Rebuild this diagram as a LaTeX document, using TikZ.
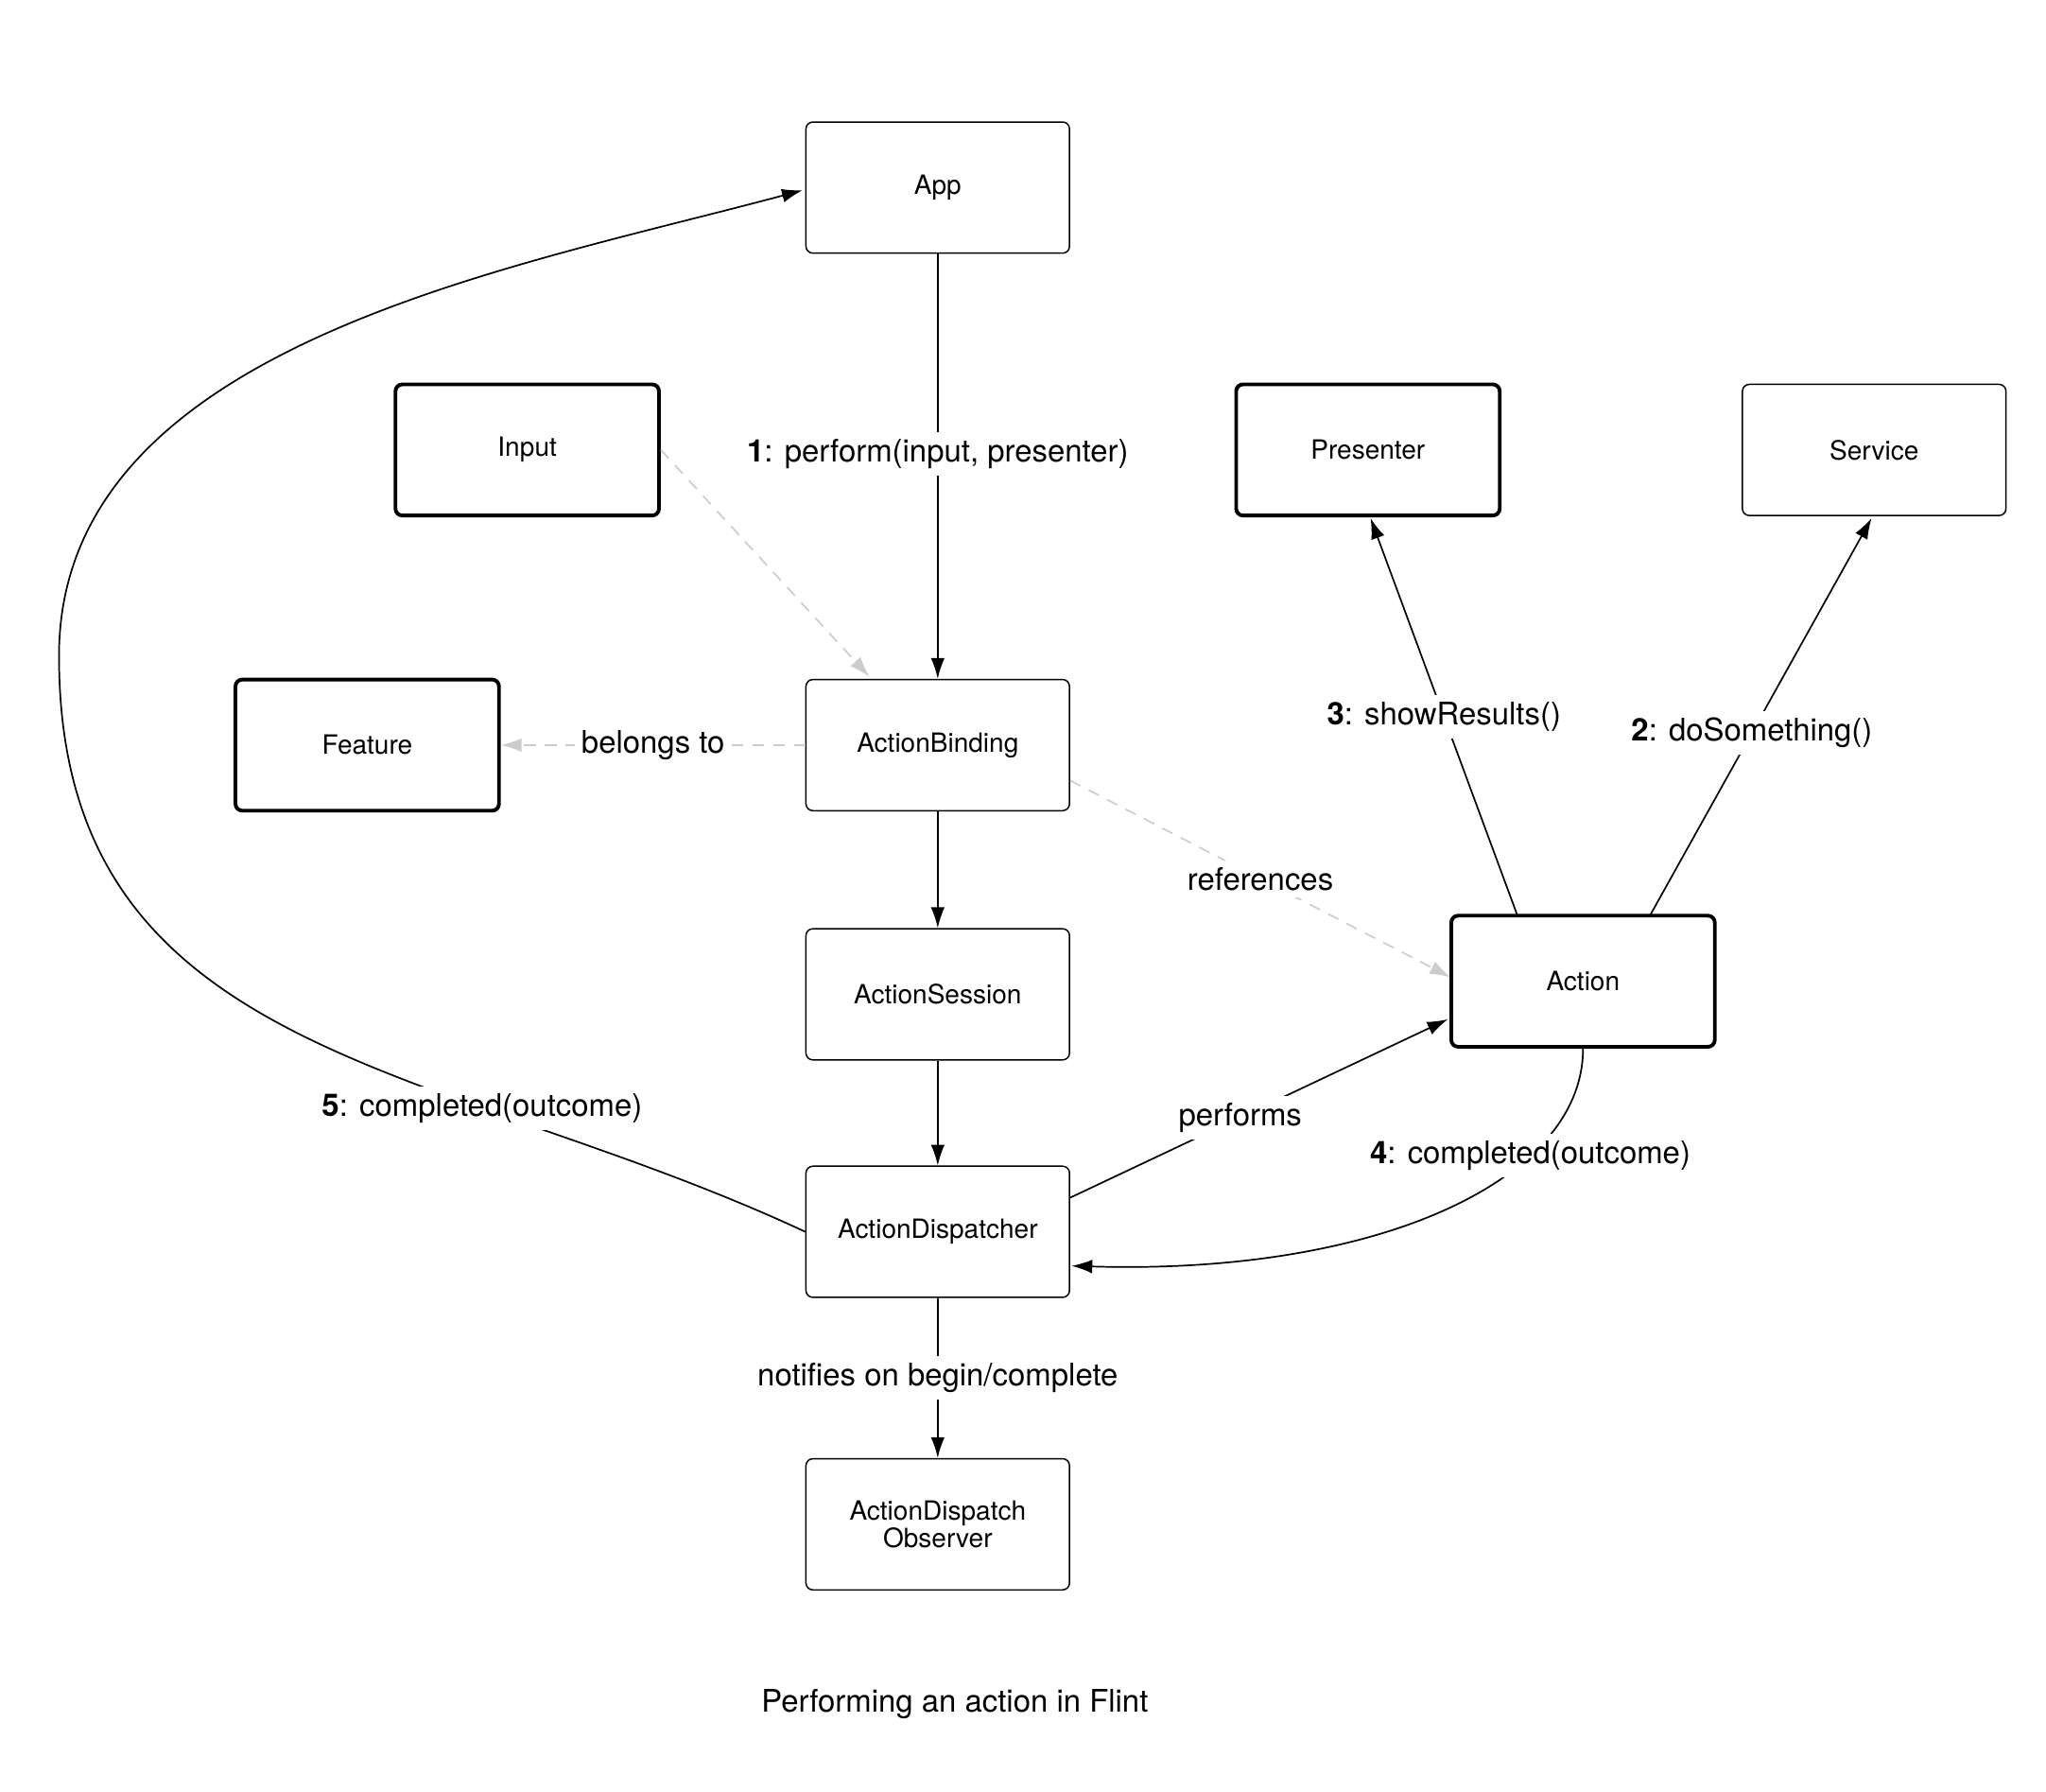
\documentclass[tikz,border=0pt]{standalone}
\usepackage{fontspec}
\setmainfont{TeX Gyre Heros}
\usetikzlibrary{arrows.meta}
\begin{document}
\begin{tikzpicture}[x=0.02cm,y=-0.02cm,
  box/.style={draw,rounded corners=3pt,minimum width=4.02cm,minimum height=2.0cm,line width=0.6pt,font=\fontsize{11.5}{14}\selectfont,align=center},
  thick box/.style={box,line width=1.6pt},
  lbl/.style={fill=white,font=\fontsize{13.5}{16}\selectfont,inner sep=3pt},
  arr/.style={-{Latex[length=9pt,width=6pt]},line width=0.7pt},
  gdash/.style={-{Latex[length=9pt,width=6pt]},draw=black!20,line width=0.7pt,dash pattern=on 5pt off 4pt}]
\useasboundingbox (0,0) rectangle (1560,1366);
\node[box] (app) at (715,143) {App};
\node[thick box] (input) at (402,343) {Input};
\node[thick box] (pres) at (1043,343) {Presenter};
\node[box] (serv) at (1429,343) {Service};
\node[thick box] (feat) at (280,568) {Feature};
\node[box] (bind) at (715,568) {ActionBinding};
\node[box] (sess) at (715,758) {ActionSession};
\node[thick box] (act) at (1207,748) {Action};
\node[box] (disp) at (715,939) {ActionDispatcher};
\node[box] (obs) at (715,1162) {ActionDispatch\\[-2pt]Observer};
\node[font=\fontsize{13.5}{16}\selectfont] (cap) at (728,1299) {Performing an action in Flint};

\draw[arr] (app) -- node[lbl,pos=0.47] {\textbf{1}: perform(input, presenter)} (bind);
\coordinate (bn) at (663,516);
\draw[gdash] (input.east) -- (bn);
\draw[gdash] (bind) -- node[lbl] {belongs to} (feat);
\coordinate (bre) at (816,595);
\coordinate (acw) at (1106,745);
\draw[gdash] (bre) -- node[lbl] {references} (acw);
\draw[arr] (bind) -- (sess);
\draw[arr] (sess) -- (disp);
\coordinate (a1) at (1157,698);
\coordinate (p1) at (1045,395);
\draw[arr] (a1) -- node[lbl,pos=0.5] {\textbf{3}: showResults()} (p1);
\coordinate (a2) at (1258,698);
\coordinate (s1) at (1427,395);
\draw[arr] (a2) -- node[lbl,pos=0.46] {\textbf{2}: doSomething()} (s1);
\coordinate (d1) at (816,913);
\coordinate (a3) at (1104,777);
\draw[arr] (d1) -- node[lbl,pos=0.45] {performs} (a3);
\coordinate (d2) at (817,965);
\draw[arr] (act.south) .. controls (1207,900) and (1050,972) .. node[lbl,pos=0.3] {\textbf{4}: completed(outcome)} (d2);
\coordinate (lft) at (45,500);
\coordinate (ap) at (612,145);
\draw[arr] (disp.west) to[out=155,in=-90,looseness=1.1] node[lbl,pos=0.3] {\textbf{5}: completed(outcome)} (lft) to[out=90,in=195,looseness=0.9] (ap);
\draw[arr] (disp) -- node[lbl] {notifies on begin/complete} (obs);
\end{tikzpicture}
\end{document}
